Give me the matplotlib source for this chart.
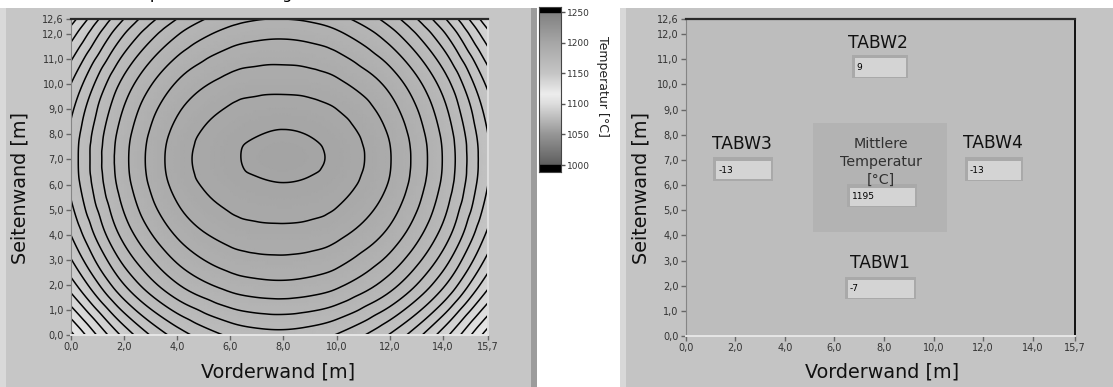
import numpy as np
import matplotlib.pyplot as plt
import matplotlib.tri as mtri
from matplotlib.colors import LinearSegmentedColormap, Normalize
from matplotlib.patches import Rectangle

W, H = 1113, 387

# temperature field [°C], estimated from the contour picture
x_m = [0.0, 2.0, 4.0, 6.0, 7.0, 8.0, 9.0, 10.0, 12.0, 14.0, 15.7]
y_m = [0.0, 2.0, 4.0, 6.0, 7.0, 8.0, 10.0, 12.0, 12.6]
temp = [
    [1118.6, 1141.5, 1157.2, 1165.9, 1167.8, 1168.3, 1167.2, 1164.7, 1154.6, 1137.5, 1117.2],
    [1137.7, 1159.9, 1174.6, 1182.0, 1183.5, 1183.9, 1183.1, 1181.1, 1172.2, 1156.1, 1136.4],
    [1150.1, 1171.8, 1185.6, 1192.0, 1193.1, 1193.3, 1192.8, 1191.2, 1183.5, 1168.1, 1148.8],
    [1156.3, 1177.7, 1191.7, 1197.8, 1199.2, 1199.8, 1199.2, 1197.4, 1189.5, 1174.0, 1155.0],
    [1157.0, 1178.5, 1192.6, 1199.0, 1201.1, 1201.8, 1201.0, 1198.8, 1190.3, 1174.8, 1155.8],
    [1156.3, 1177.7, 1191.7, 1198.2, 1199.8, 1200.5, 1199.8, 1197.8, 1189.5, 1174.0, 1155.0],
    [1150.1, 1171.8, 1185.6, 1192.0, 1193.1, 1193.3, 1192.8, 1191.2, 1183.5, 1168.1, 1148.8],
    [1137.7, 1159.9, 1174.6, 1182.0, 1183.5, 1183.9, 1183.1, 1181.1, 1172.2, 1156.1, 1136.4],
    [1132.7, 1155.1, 1170.1, 1178.0, 1179.7, 1180.0, 1179.2, 1176.9, 1167.7, 1151.2, 1131.3],
]
levels = [1120, 1125, 1130, 1135, 1140, 1145, 1150, 1155, 1160,
          1165, 1170, 1175, 1180, 1185, 1190, 1195, 1200]

x_ticks = [0, 2, 4, 6, 8, 10, 12, 14, 15.7]
y_ticks = [0, 1, 2, 3, 4, 5, 6, 7, 8, 9, 10, 11, 12, 12.6]
cbar_ticks = [1000, 1050, 1100, 1150, 1200, 1250]

walls = ["TABW1", "TABW2", "TABW3", "TABW4"]
wall_values = ["-7", "9", "-13", "-13"]
mean_label = "Mittlere\nTemperatur\n[°C]"
mean_value = "1195"

# LabVIEW-like grey colour ramp
cmap = LinearSegmentedColormap.from_list("lv_grey", [
    (0.00, (0.37, 0.37, 0.37)),
    (0.20, (0.59, 0.59, 0.59)),
    (0.40, (0.87, 0.87, 0.87)),
    (0.46, (0.93, 0.93, 0.93)),
    (0.60, (0.77, 0.77, 0.77)),
    (0.80, (0.65, 0.65, 0.65)),
    (1.00, (0.50, 0.50, 0.50)),
])
norm = Normalize(1000, 1250)


def fbox(x0, y0, x1, y1):
    # pixel box (origin top left) -> figure fraction
    return [x0 / W, 1 - y1 / H, (x1 - x0) / W, (y1 - y0) / H]


def lab(v):
    return f"{v:.1f}".replace(".", ",")


fig = plt.figure(figsize=(W / 100, H / 100), dpi=100)
fig.patch.set_facecolor("white")

# panels behind everything
bg = fig.add_axes([0, 0, 1, 1], zorder=-10)
bg.set_xlim(0, W)
bg.set_ylim(H, 0)
bg.axis("off")
for x0, y0, x1, y1, c in [
    (0, 8, 537, H, "#c6c6c6"),
    (0, 8, 6, H, "#d9d9d9"),
    (531, 8, 537, H, "#9c9c9c"),
    (620, 8, W, H, "#c4c4c4"),
    (620, 8, 626, H, "#d8d8d8"),
]:
    bg.add_patch(Rectangle((x0, y0), x1 - x0, y1 - y0, color=c, lw=0))

# title, cut off at the top edge like in the screenshot
fig.text(117 / W, 1 + 1.5 / H, "Temperaturverteilung", fontsize=11.6,
         va="baseline", ha="left", color="black")


def style(ax, right_col):
    ax.set_xlim(0, 15.7)
    ax.set_ylim(0, 12.6)
    ax.set_xticks(x_ticks)
    ax.set_xticklabels([lab(v) for v in x_ticks])
    ax.set_yticks(y_ticks)
    ax.set_yticklabels([lab(v) for v in y_ticks])
    ax.tick_params(direction="out", length=3.5, width=1, color="#666666",
                   labelsize=7, labelcolor="#333333", pad=1.5)
    ax.spines["top"].set_color("#2a2a2a")
    ax.spines["top"].set_linewidth(1.6)
    ax.spines["right"].set_color(right_col)
    ax.spines["right"].set_linewidth(1.4)
    ax.spines["left"].set_color("#858585")
    ax.spines["bottom"].set_color("#e6e6e6")
    ax.spines["bottom"].set_linewidth(1.4)


# left: contour plot
axL = fig.add_axes(fbox(71, 19, 488, 335))
X, Y = np.meshgrid(x_m, y_m)
Z = np.array(temp).ravel()
tri = mtri.Triangulation(X.ravel(), Y.ravel())
interp = mtri.CubicTriInterpolator(tri, Z, kind="geom")
tri_f, z_f = mtri.UniformTriRefiner(tri).refine_field(Z, triinterpolator=interp, subdiv=4)
axL.tripcolor(tri_f, z_f, cmap=cmap, norm=norm, shading="gouraud")
axL.tricontour(tri_f, z_f, levels=levels, colors="black", linewidths=1.1)
style(axL, "#dedede")

# colour bar
cax = fig.add_axes(fbox(539, 7, 561, 172))
grad = np.linspace(1000, 1250, 256).reshape(-1, 1)
cax.imshow(grad, cmap=cmap, norm=norm, aspect="auto", origin="lower",
           extent=[0, 1, 1000, 1250])
cax.axhspan(1250, 1260, color="black")
cax.axhspan(985, 1000, color="black")
cax.set_xlim(0, 1)
cax.set_ylim(988.6, 1258.2)
cax.set_xticks([])
cax.yaxis.tick_right()
cax.set_yticks(cbar_ticks)
cax.set_yticklabels([str(v) for v in cbar_ticks])
cax.tick_params(direction="out", length=3, width=1, color="#555555",
                labelsize=6.5, labelcolor="#333333", pad=1)
for s in cax.spines.values():
    s.set_color("#444444")
fig.text(603 / W, 1 - 86 / H, "Temperatur [°C]", rotation=270, fontsize=9,
         ha="center", va="center", color="#222222")

# right: wall overview
axR = fig.add_axes(fbox(685.7, 19, 1075, 336), facecolor="#bdbdbd")
style(axR, "#111111")
axR.add_patch(Rectangle((5.15, 4.15), 10.52 - 5.15, 8.45 - 4.15, color="#b3b3b3", lw=0))
axR.text(7.88, 6.93, mean_label, ha="center", va="center", fontsize=10.3,
         color="#303030", linespacing=1.35)


def field(ax, x0, y0, x1, y1, txt):
    ax.add_patch(Rectangle((x0, y0), x1 - x0, y1 - y0, color="#a9a9a9", lw=0))
    ax.add_patch(Rectangle((x0 + 0.13, y0 + 0.06), x1 - x0 - 0.2, y1 - y0 - 0.2,
                           color="#d4d4d4", lw=0))
    ax.text(x0 + 0.2, (y0 + y1) / 2 - 0.04, txt, ha="left", va="center",
            fontsize=6.5, color="black")


# label position, field box
wall_pos = [
    ((7.83, 2.89), (6.42, 1.46, 9.27, 2.36)),
    ((7.75, 11.65), (6.69, 10.24, 8.97, 11.17)),
    ((2.26, 7.63), (1.11, 6.17, 3.51, 7.10)),
    ((12.38, 7.66), (11.26, 6.16, 13.61, 7.11)),
]
for name, val, (lp, bx) in zip(walls, wall_values, wall_pos):
    axR.text(lp[0], lp[1], name, ha="center", va="center", fontsize=12.3, color="#111111")
    field(axR, *bx, val)
field(axR, 6.49, 5.12, 9.31, 6.04, mean_value)

for xc in (20, 641):
    fig.text(xc / W, 1 - 188 / H, "Seitenwand [m]", rotation=90, fontsize=13.8,
             ha="center", va="center", color="#111111")
for xc in (278, 882):
    fig.text(xc / W, 1 - 372 / H, "Vorderwand [m]", fontsize=13.8,
             ha="center", va="center", color="#111111")

fig.savefig("out.png", dpi=100)
